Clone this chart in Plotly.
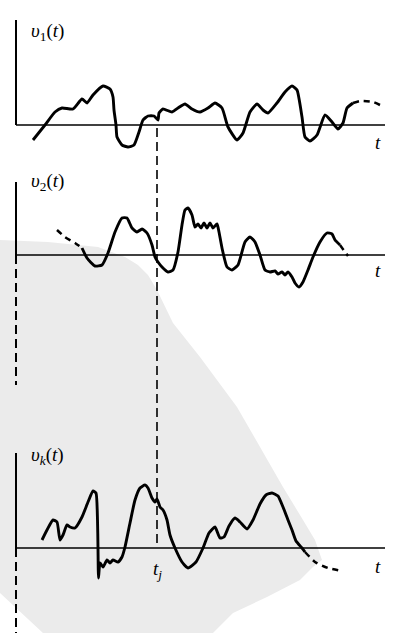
import plotly.graph_objects as go

# ---------------- data (t, v) ----------------
# sample function v1(t)
t1 = [17, 29, 39, 46, 57, 66, 71, 77, 87, 94, 97, 98, 100, 101, 106, 112, 118, 123, 127, 132,
      138, 142, 143, 147, 156, 162, 169, 176, 184, 192, 199, 206, 212, 221, 227, 234, 241, 247,
      252, 261, 269, 276, 281, 286, 289, 294, 301, 309, 316, 322, 327, 331, 337]
v1 = [-15, 0, 13, 17, 16, 26, 22, 30, 39, 36, 28, 15, 0, -12, -20, -22, -20, -7, 5, 9,
      9, 5, 12, 16, 13, 17, 21, 16, 13, 17, 22, 17, -2, -15, -8, 13, 21, 15,
      12, 22, 33, 39, 35, 8, -12, -16, -10, 10, 3, -4, 2, 17, 22]
t1_dash = [337, 344, 357, 364]
v1_dash = [22, 24, 23, 20]

# sample function v2(t)
t2_dash_a = [41, 49, 59, 66]
v2_dash_a = [25, 18, 12, 7]
t2 = [66, 71, 79, 86, 92, 99, 106, 111, 116, 121, 126, 131, 136, 139, 142, 146, 152, 157, 162,
      166, 169, 172, 176, 179, 182, 185, 188, 191, 194, 197, 201, 203, 206, 211, 216, 222, 229,
      234, 239, 244, 249, 254, 259, 262, 266, 269, 272, 276, 279, 283, 287, 292, 297, 304, 311,
      316, 319, 324]
v2 = [7, -3, -11, -10, 2, 23, 37, 37, 27, 23, 26, 22, 10, -2, -7, -12, -17, -15, 3,
      30, 45, 47, 40, 28, 31, 27, 32, 27, 32, 27, 31, 23, 7, -12, -15, -10, 13,
      18, 13, 0, -15, -17, -16, -19, -17, -20, -17, -22, -28, -32, -27, -15, -2, 13, 22,
      21, 15, 10]
t2_dash_b = [324, 329, 332]
v2_dash_b = [10, 3, -1]

# sample function vk(t)
tk = [26, 31, 37, 41, 44, 47, 51, 54, 59, 66, 72, 77, 80, 81.5, 82, 82.5, 84, 87, 91, 94, 97,
      102, 106, 109, 114, 119, 124, 129, 132, 136, 139, 141, 144, 147, 151, 154, 159, 166, 172,
      180, 187, 193, 199, 204, 208, 213, 219, 224, 231, 237, 244, 250, 256, 262, 267, 272, 276,
      280, 286, 289]
vk = [8, 18, 28, 26, 8, 13, 23, 21, 20, 31, 46, 57, 55, 28, 0, -30, -15, -19, -12, -15, -12,
      -14, -9, 1, 25, 48, 60, 63, 60, 50, 46, 49, 41, 38, 28, 13, 0, -14, -20,
      -14, 0, 15, 21, 10, 11, 22, 30, 26, 19, 28, 44, 53, 55, 52, 41, 28, 18,
      7, 0, -4]
tk_dash = [289, 299, 312, 327]
vk_dash = [-4, -14, -20, -23]

t_j = 141          # the sampling instant t_j
t_end = 369        # end of the time axes
v_axis_top = [105, 73, 95]   # heights of the ordinate axes
labels = ["<i>υ</i><sub>1</sub>(<i>t</i>)", "<i>υ</i><sub>2</sub>(<i>t</i>)",
          "<i>υ<sub>k</sub></i>(<i>t</i>)"]

# ---------------- layout geometry ----------------
W, H = 406, 633
axis_px = [125, 255, 548]    # pixel row of each time axis
x0_px = 16

fig = go.Figure()
yrefs = ["y", "y2", "y3"]
ykeys = ["yaxis", "yaxis2", "yaxis3"]

curve = dict(color="black", width=2.9, shape="spline", smoothing=0.5)
dash_curve = dict(color="black", width=2.5, dash="6px,5px", shape="spline", smoothing=0.6)

def add(t, v, i, line):
    fig.add_trace(go.Scatter(x=t, y=v, mode="lines", line=line, yaxis=yrefs[i],
                             hoverinfo="skip", showlegend=False))

add(t1, v1, 0, curve)
add(t1_dash, v1_dash, 0, dash_curve)
add(t2_dash_a, v2_dash_a, 1, dash_curve)
add(t2, v2, 1, curve)
add(t2_dash_b, v2_dash_b, 1, dash_curve)
add(tk, vk, 2, curve)
add(tk_dash, vk_dash, 2, dash_curve)

shapes = []
# watermark-like grey background (scan artefact), in pixel coords
wm = [(0, 240), (48, 242), (98, 247), (125, 257), (138, 265), (148, 275), (157, 290),
      (173, 323), (200, 357), (217, 380), (237, 407), (260, 447), (283, 487), (300, 515),
      (315, 540), (322, 560), (313, 567), (300, 580), (267, 597), (233, 613), (213, 633),
      (43, 633), (0, 593)]
path = "M " + " L ".join(f"{x / W:.4f},{1 - y / H:.4f}" for x, y in wm) + " Z"
shapes.append(dict(type="path", path=path, xref="paper", yref="paper",
                   fillcolor="#ebebeb", line=dict(width=0), layer="below"))

for i in range(3):
    # time axis
    shapes.append(dict(type="line", xref="x", yref=yrefs[i], x0=0, x1=t_end, y0=0, y1=0,
                       line=dict(color="black", width=1.6)))
    # ordinate axis
    shapes.append(dict(type="line", xref="x", yref=yrefs[i], x0=0, x1=0, y0=0, y1=v_axis_top[i],
                       line=dict(color="black", width=2)))

# dashed extensions of the ordinate axes
shapes.append(dict(type="line", xref="x", yref="y2", x0=0, x1=0, y0=0, y1=-130,
                   line=dict(color="black", width=2, dash="9px,5px")))
shapes.append(dict(type="line", xref="x", yref="y3", x0=0, x1=0, y0=0, y1=-85,
                   line=dict(color="black", width=2, dash="9px,5px")))
# dashed line at t_j
shapes.append(dict(type="line", xref="x", yref="y3", x0=t_j, x1=t_j, y0=420, y1=0,
                   line=dict(color="black", width=1.6, dash="9px,5px")))

font = dict(family="Liberation Serif", size=19, color="black")
ann = []
label_v = [93, 73, 92]
for i in range(3):
    ann.append(dict(x=13, y=label_v[i], xref="x", yref=yrefs[i], text=labels[i],
                    showarrow=False, xanchor="left", yanchor="middle", font=font))
t_lab_v = [-17, -15, -18]
for i in range(3):
    ann.append(dict(x=362, y=t_lab_v[i], xref="x", yref=yrefs[i], text="<i>t</i>",
                    showarrow=False, xanchor="center", yanchor="middle", font=font))
ann.append(dict(x=t_j, y=-22, xref="x", yref="y3", text="<i>t<sub>j</sub></i>",
                showarrow=False, xanchor="center", yanchor="middle", font=font))

layout = dict(
    width=W, height=H, margin=dict(l=0, r=0, t=0, b=0),
    paper_bgcolor="white", plot_bgcolor="rgba(0,0,0,0)",
    xaxis=dict(range=[-x0_px, W - x0_px], visible=False, fixedrange=True),
    shapes=shapes, annotations=ann, showlegend=False,
)
for i in range(3):
    a = axis_px[i]
    d = dict(range=[a - H, a], visible=False, domain=[0, 1], fixedrange=True)
    if i > 0:
        d["overlaying"] = "y"
    layout[ykeys[i]] = d
fig.update_layout(**layout)

fig.write_html("out.html", config={"displayModeBar": False},
               post_script="document.body.style.margin='0';document.body.style.overflow='hidden';")
